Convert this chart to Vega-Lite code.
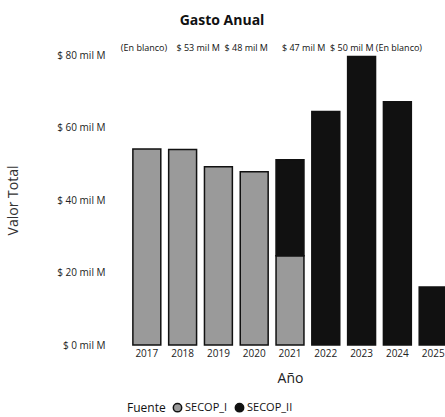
{
  "$schema": "https://vega.github.io/schema/vega-lite/v6.json",
  "autosize": {"type": "none"},
  "width": 330,
  "height": 290,
  "padding": {"left": 125, "top": 55, "right": 0, "bottom": 72},
  "background": "white",
  "config": {
    "font": "Open Sans",
    "view": {"stroke": null},
    "title": {"font": "Open Sans", "fontSize": 14, "fontWeight": "bold", "color": "#111"}
  },
  "title": {"text": "Gasto Anual", "anchor": "middle", "frame": "group", "dx": -68, "offset": 16},
  "datasets": {
    "gasto": [
      {"anio": "2017", "fuente": "SECOP_I", "valor": 54.1},
      {"anio": "2018", "fuente": "SECOP_I", "valor": 53.9},
      {"anio": "2019", "fuente": "SECOP_I", "valor": 49.2},
      {"anio": "2020", "fuente": "SECOP_I", "valor": 47.8},
      {"anio": "2021", "fuente": "SECOP_I", "valor": 24.6},
      {"anio": "2021", "fuente": "SECOP_II", "valor": 26.5},
      {"anio": "2022", "fuente": "SECOP_II", "valor": 64.4},
      {"anio": "2023", "fuente": "SECOP_II", "valor": 79.6},
      {"anio": "2024", "fuente": "SECOP_II", "valor": 67.1},
      {"anio": "2025", "fuente": "SECOP_II", "valor": 16.0}
    ],
    "nota": [
      {"anio": "2017", "valor": 82, "texto": "(En blanco)\u00a0\u00a0\u00a0\u00a0$ 53 mil M\u00a0\u00a0$ 48 mil M\u00a0\u00a0\u00a0\u00a0\u00a0\u00a0$ 47 mil M\u00a0\u00a0$ 50 mil M\u00a0(En blanco)"}
    ]
  },
  "layer": [
    {
      "data": {"name": "gasto"},
      "mark": {"type": "bar", "stroke": "#111", "strokeWidth": 1.5},
      "encoding": {
        "x": {
          "field": "anio", "type": "ordinal", "title": "Año",
          "scale": {"paddingInner": 0.22, "paddingOuter": 0.22},
          "axis": {"labelAngle": 0, "domain": false, "ticks": false, "labelPadding": 3, "labelFontSize": 10, "labelColor": "#222", "titleFontSize": 14, "titleFontWeight": "normal", "titleColor": "#222", "titlePadding": 13, "titleX": 165, "titleAnchor": "middle"}
        },
        "y": {
          "field": "valor", "type": "quantitative", "title": "Valor Total",
          "scale": {"domain": [0, 80], "nice": false},
          "axis": {"values": [0, 20, 40, 60, 80], "labelExpr": "'$ ' + datum.value + ' mil M'", "grid": false, "domain": false, "ticks": false, "labelPadding": 20, "labelFontSize": 10, "labelColor": "#222", "titleFontSize": 14, "titleFontWeight": "normal", "titleColor": "#333", "titlePadding": 36}
        },
        "color": {
          "field": "fuente", "type": "nominal", "title": "Fuente",
          "scale": {"domain": ["SECOP_I", "SECOP_II"], "range": ["#9a9a9a", "#111111"]},
          "legend": {"orient": "none", "legendX": 2, "legendY": 347, "direction": "horizontal", "titleOrient": "left", "symbolType": "circle", "symbolSize": 70, "symbolStrokeColor": "#111", "symbolStrokeWidth": 1.5, "titleFontSize": 12, "titleFontWeight": "normal", "titleColor": "#111", "labelFontSize": 11, "labelColor": "#111", "columnPadding": 4, "labelOffset": 2, "titlePadding": 6}
        },
        "order": {"field": "fuente", "sort": "ascending"}
      }
    },
    {
      "data": {"name": "nota"},
      "mark": {"type": "text", "align": "left", "baseline": "middle", "fontSize": 9, "color": "#111", "dx": -12},
      "encoding": {
        "x": {"field": "anio", "type": "ordinal", "bandPosition": 0},
        "y": {"field": "valor", "type": "quantitative"},
        "text": {"field": "texto"}
      }
    }
  ]
}
